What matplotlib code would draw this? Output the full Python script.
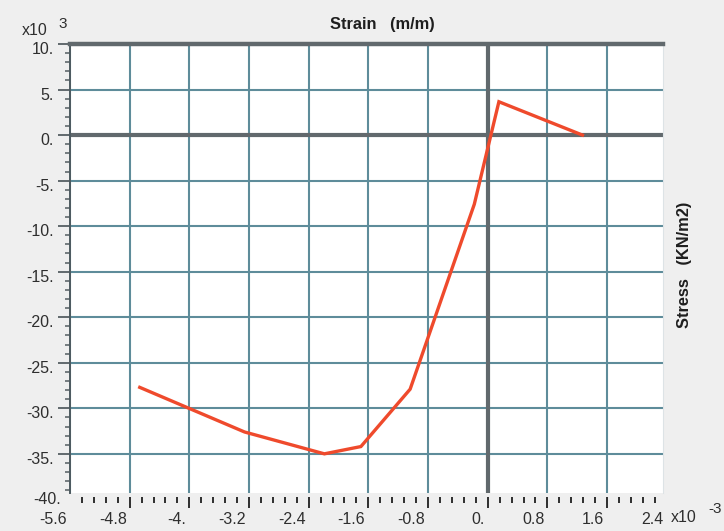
import numpy as np
import matplotlib
matplotlib.use("Agg")
import matplotlib.pyplot as plt
import matplotlib.transforms as mtransforms
from matplotlib.ticker import FixedLocator

# strain in 1e-3 m/m, stress in 1e3 KN/m2
strain = [-4.665, -3.26, -2.19, -1.70, -1.04, -0.18, 0.15, 1.27]
stress = [-27.7, -32.6, -35.0, -34.2, -27.9, -7.6, 3.66, 0.0]

x_ticks = [-5.6, -4.8, -4.0, -3.2, -2.4, -1.6, -0.8, 0.0, 0.8, 1.6]
x_labels = ["-5.6", "-4.8", "-4.", "-3.2", "-2.4", "-1.6", "-0.8", "0.", "0.8", "1.6"]
y_ticks = [10, 5, 0, -5, -10, -15, -20, -25, -30, -35]
y_labels = ["10.", "5.", "0.", "-5.", "-10.", "-15.", "-20.", "-25.", "-30.", "-35."]

plt.rcParams['font.family'] = ['Liberation Sans', 'DejaVu Sans']

GRID = '#5e8c9a'
DARK = '#61696d'
TXT = '#2e2e2e'

fig = plt.figure(figsize=(7.24, 5.31), dpi=100, facecolor='#efefef')
W, H = 724, 531
ax = fig.add_axes([70 / W, 1 - 493 / H, 593 / W, (493 - 44) / H])
ax.set_facecolor('white')

ax.set_xlim(-5.6, 2.35)
ax.set_ylim(-39.3, 10)

ax.xaxis.set_major_locator(FixedLocator(x_ticks))
ax.xaxis.set_minor_locator(FixedLocator(np.arange(-5.6, 2.36, 0.16)))
ax.yaxis.set_major_locator(FixedLocator(y_ticks))
ax.yaxis.set_minor_locator(FixedLocator(np.arange(-39, 10.5, 1)))
ax.set_xticklabels(x_labels)
ax.set_yticklabels(y_labels)

ax.grid(True, which='major', color=GRID, linewidth=1.5)
ax.set_axisbelow(True)
ax.axhline(0, color=DARK, linewidth=3, zorder=2)
ax.axvline(0, color=DARK, linewidth=3, zorder=2)

ax.plot(strain, stress, color='#ef4a2c', linewidth=2.4, solid_joinstyle='miter', zorder=3)

ax.spines['right'].set_color('#dde3e6')
ax.spines['right'].set_linewidth(0.8)
ax.spines['top'].set_color(DARK)
ax.spines['top'].set_linewidth(3.2)
ax.spines['left'].set_color('#4d5a60')
ax.spines['left'].set_linewidth(1.4)
ax.spines['bottom'].set_position(('outward', 3))
ax.spines['bottom'].set_visible(False)

ax.tick_params(axis='x', which='major', direction='out', length=8, width=1.4,
               color=TXT, pad=3, labelsize=11.5, labelcolor=TXT)
ax.tick_params(axis='x', which='minor', direction='out', length=4.5, width=1.4, color=TXT)
ax.tick_params(axis='y', which='major', direction='out', length=8.5, width=1.4,
               color=DARK, pad=3, labelsize=11.5, labelcolor=TXT)
ax.tick_params(axis='y', which='minor', direction='out', length=3.8, width=1.2, color=DARK)
ax.xaxis.get_major_ticks()[0].tick1line.set_visible(False)

dx = mtransforms.ScaledTranslation(-0.03, 0, fig.dpi_scale_trans)
for lbl in ax.get_xticklabels():
    lbl.set_ha('right')
    lbl.set_transform(lbl.get_transform() + dx)
dy = mtransforms.ScaledTranslation(0, -0.04, fig.dpi_scale_trans)
for lbl in ax.get_yticklabels():
    lbl.set_transform(lbl.get_transform() + dy)

# end labels that fall just outside the drawn area
ax.text(0, -40, "-40.", transform=ax.get_yaxis_transform()
        + mtransforms.ScaledTranslation(-0.09, 0, fig.dpi_scale_trans),
        ha='right', va='center', fontsize=11.5, color=TXT, clip_on=False)
ax.text(2.4, 0, "2.4", transform=ax.get_xaxis_transform()
        + mtransforms.ScaledTranslation(-0.03, -0.26, fig.dpi_scale_trans),
        ha='right', va='center', fontsize=11.5, color=TXT, clip_on=False)

fig.text(382 / W, 1 - 25 / H, "Strain   (m/m)", ha='center', va='center',
         fontsize=11.8, fontweight='bold', color='#1e1e1e')
fig.text(684 / W, 1 - 265 / H, "Stress   (KN/m2)", ha='center', va='center',
         rotation=90, fontsize=11.8, fontweight='bold', color='#1e1e1e')
fig.text(35 / W, 1 - 31 / H, "x10", ha='center', va='center', fontsize=11.5, color=TXT)
fig.text(63 / W, 1 - 24 / H, "3", ha='center', va='center', fontsize=11, color=TXT)
fig.text(684 / W, 1 - 518 / H, "x10", ha='center', va='center', fontsize=11.5, color=TXT)
fig.text(715 / W, 1 - 509 / H, "-3", ha='center', va='center', fontsize=11, color=TXT)

fig.savefig("out.png", dpi=100, facecolor=fig.get_facecolor())
